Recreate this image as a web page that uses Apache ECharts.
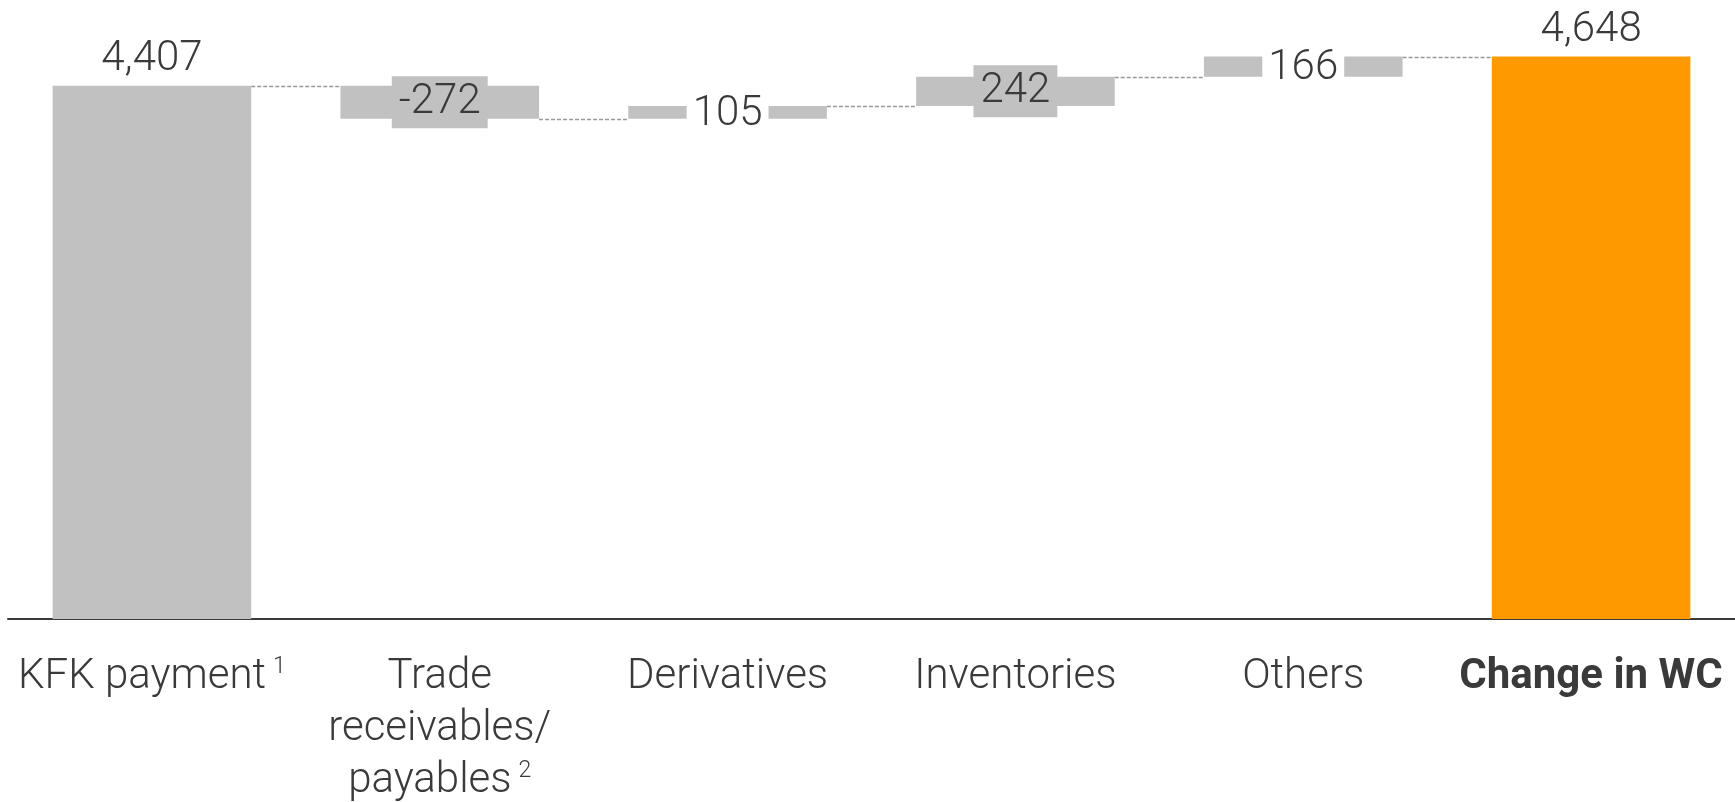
<!DOCTYPE html>
<html>
<head>
<meta charset="utf-8">
<script src="https://cdn.jsdelivr.net/npm/echarts@6/dist/echarts.min.js"></script>
<style>
  html, body { margin: 0; padding: 0; background: #fff; }
  #chart { width: 1735px; height: 802px; }
</style>
</head>
<body>
<div id="chart"></div>
<script>
// Working-capital bridge: starting total, changes, ending total
const categories = ['KFK payment', 'Trade\nreceivables/\npayables', 'Derivatives', 'Inventories', 'Others', 'Change in WC'];
const footnotes = ['1', '2', '', '', '', ''];
const values = [4407, -272, 105, 242, 166, 4648];
const isTotal = [true, false, false, false, false, true];

const GREY = '#c1c1c1';
const ORANGE = '#ff9900';
const TEXT = '#3a3a3a';
const BAR_RATIO = 0.69;

// Build invisible bases, visible heights and running levels for connectors
const base = [];
const bars = [];
const levels = [];
let running = 0;
values.forEach((v, i) => {
  let lo, hi;
  if (isTotal[i]) {
    lo = 0; hi = v; running = v;
  } else {
    const start = running, end = running + v;
    lo = Math.min(start, end); hi = Math.max(start, end); running = end;
  }
  base.push(lo);
  const thin = !isTotal[i] && Math.abs(v) < 200;
  bars.push({
    value: hi - lo,
    itemStyle: { color: i === values.length - 1 ? ORANGE : GREY },
    label: isTotal[i] ? {
      show: true, position: 'top', distance: 3,
      formatter: () => v.toLocaleString('en-US')
    } : {
      show: true, position: 'inside',
      backgroundColor: thin ? '#ffffff' : GREY,
      padding: thin ? [0, 6, 0, 6] : [3, 7, 3, 7],
      offset: [0, thin ? 2 : 0],
      formatter: () => String(v)
    }
  });
  if (i < values.length - 1) levels.push([i, running]);
});

const fmtCategory = (val, idx) => {
  const bold = idx === categories.length - 1;
  const style = bold ? 'b' : 'c';
  const lines = val.split('\n');
  return lines.map((ln, k) => {
    let s = '{' + style + '|' + ln + '}';
    if (k === lines.length - 1 && footnotes[idx]) s += '{sup|' + footnotes[idx] + '}';
    return s;
  }).join('\n');
};

const chart = echarts.init(document.getElementById('chart'));
chart.setOption({
  animation: false,
  grid: { left: 8, right: -1, top: 14, bottom: 181, containLabel: false },
  xAxis: {
    type: 'category',
    data: categories,
    axisTick: { show: false },
    axisLine: { lineStyle: { color: '#3a3a3a', width: 2 } },
    axisLabel: {
      interval: 0,
      margin: 32,
      color: TEXT,
      fontFamily: 'Roboto',
      formatter: fmtCategory,
      rich: {
        c: { fontSize: 42, fontWeight: 300, lineHeight: 52, color: TEXT, fontFamily: 'Roboto' },
        b: { fontSize: 42, fontWeight: 700, lineHeight: 52, color: TEXT, fontFamily: 'Roboto' },
        sup: { fontSize: 23, fontWeight: 300, lineHeight: 52, color: TEXT, fontFamily: 'Roboto', verticalAlign: 'top', padding: [5, 0, 0, 7] }
      }
    }
  },
  yAxis: { type: 'value', min: 0, max: 5000, show: false, splitLine: { show: false } },
  series: [
    {
      type: 'bar', stack: 'w', data: base, silent: true,
      itemStyle: { color: 'transparent' }, barWidth: (BAR_RATIO * 100) + '%'
    },
    {
      type: 'bar', stack: 'w', data: bars, barWidth: (BAR_RATIO * 100) + '%',
      label: { fontSize: 42, fontWeight: 300, color: TEXT, fontFamily: 'Roboto', lineHeight: 46 }
    },
    {
      type: 'custom',
      data: levels,
      silent: true,
      z: 1,
      renderItem: (params, api) => {
        const p = api.coord([api.value(0), api.value(1)]);
        const band = api.size([1, 0])[0];
        const half = band * BAR_RATIO / 2;
        const y = Math.round(p[1]) + 0.5;
        return {
          type: 'line',
          shape: { x1: p[0] + half, y1: y, x2: p[0] + band - half, y2: y },
          style: { stroke: '#999999', lineWidth: 1.5, lineDash: [4, 2] }
        };
      }
    }
  ]
});
</script>
</body>
</html>
